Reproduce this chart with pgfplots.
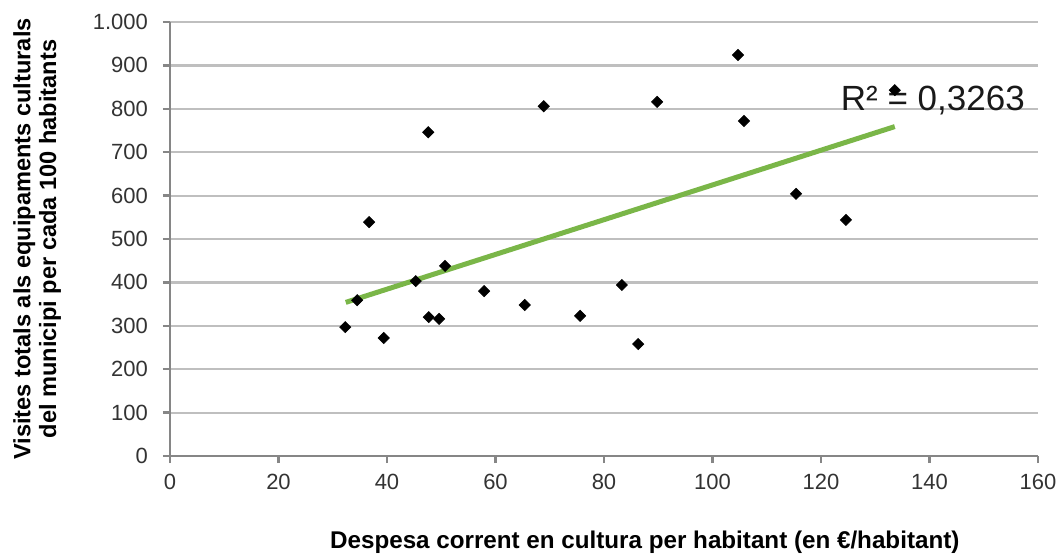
\documentclass[border=0pt]{standalone}
\usepackage{fontspec}
\setmainfont{Liberation Sans}
\usepackage{pgfplots}
\pgfplotsset{compat=1.18}
\definecolor{gridgray}{HTML}{BFBFBF}
\definecolor{axisgray}{HTML}{868686}
\definecolor{trendgreen}{HTML}{7AB648}

\begin{document}
\begin{tikzpicture}
\useasboundingbox (-85pt,-49pt) rectangle (446pt,228pt);
\begin{axis}[
    at={(0,0)}, anchor=south west,
    scale only axis,
    width=434pt, height=217pt,
    xmin=0, xmax=160, ymin=0, ymax=1000,
    xtick={0,20,...,160},
    ytick={0,100,...,1000},
    /pgf/number format/assume math mode=true,
    /pgf/number format/1000 sep={.},
    axis x line*=bottom, axis y line*=left,
    axis line style={axisgray, line width=1.3pt, -},
    tick align=outside,
    major tick length=3.5pt,
    tick style={axisgray, line width=1.2pt},
    ymajorgrids,
    grid style={gridgray, line width=1.1pt},
    ticklabel style={font=\fontsize{11}{13}\selectfont, text=black!80},
    yticklabel style={xshift=-4pt},
    xticklabel style={yshift=-2pt},
    xlabel={Despesa corrent en cultura per habitant (en €/habitant)},
    xlabel style={at={(axis description cs:0.547,0)}, anchor=base, yshift=-46pt,
        font=\bfseries\fontsize{12.1}{13}\selectfont},
    ylabel={Visites totals als equipaments culturals\\del municipi per cada 100 habitants},
    ylabel style={at={(axis description cs:-0.153,0.5)}, anchor=center, rotate=0,
        align=center, font=\bfseries\fontsize{11.8}{12.8}\selectfont},
    clip=false,
]
\addplot[draw=none] coordinates {(123.6,797)}
    node[anchor=base west, inner sep=0pt, font=\fontsize{17.5}{19}\selectfont, text=black!90] {R² = 0,3263};
\addplot[only marks, mark=square*, mark size=1.95pt, mark options={rotate=45}, black] coordinates {
    (32.3,297) (34.5,359) (36.7,539) (39.4,272) (45.3,403) (47.6,746)
    (47.7,320) (49.6,316) (50.7,438) (57.9,380) (65.4,348) (68.9,806)
    (75.6,323) (83.3,394) (86.3,258) (89.8,816) (104.7,924) (105.8,772)
    (115.4,604) (124.6,544) (133.6,843)
};
\addplot[trendgreen, line width=2.5pt] coordinates {(32.4,354) (133.6,759)};
\end{axis}
\end{tikzpicture}
\end{document}
